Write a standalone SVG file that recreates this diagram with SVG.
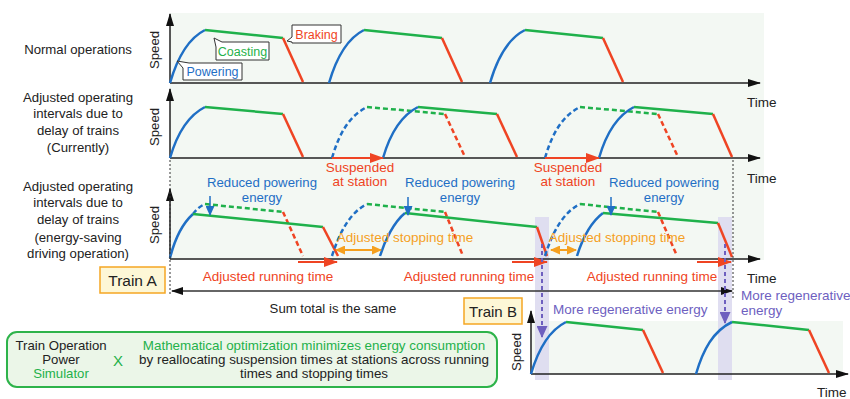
<svg xmlns="http://www.w3.org/2000/svg" width="850" height="399" viewBox="0 0 850 399">
<defs>
<style>
text{font-family:"Liberation Sans",Arial,sans-serif;font-size:13.2px;fill:#222}
.c{text-anchor:middle}
.b{stroke:#1f6fc5;stroke-width:2.5;fill:none}
.g{stroke:#1fb14b;stroke-width:2.5;fill:none}
.r{stroke:#ef4423;stroke-width:2.5;fill:none}
.d{stroke-dasharray:5,3}
.ax{stroke:#222;stroke-width:1.5;fill:none}
.tb{fill:#1f6fc5}.tg{fill:#1fb14b}.tr{fill:#ef4423}.to{fill:#f5a01f}.tp{fill:#6e5fbf}
.co{fill:#fff;stroke:#333;stroke-width:1}
.bg{fill:#f3f8f3}
.band{fill:#dddaf0;opacity:.9}
.tbox{fill:#fdf7d6;stroke:#f5a623;stroke-width:1.5}
.dot{stroke:#333;stroke-width:1;stroke-dasharray:2,2;fill:none}
</style>
<marker id="ak" markerWidth="13" markerHeight="8" refX="12" refY="4" orient="auto" markerUnits="userSpaceOnUse"><path d="M0,0 L13,4 L0,8 z" fill="#111"/></marker>
<marker id="ar" markerWidth="14" markerHeight="10" refX="13" refY="5" orient="auto" markerUnits="userSpaceOnUse"><path d="M0,0 L14,5 L0,10 z" fill="#ef4423"/></marker>
<marker id="ao" markerWidth="10" markerHeight="9" refX="9" refY="4.5" orient="auto-start-reverse" markerUnits="userSpaceOnUse"><path d="M0,0 L10,4.5 L0,9 z" fill="#f5a01f"/></marker>
<marker id="ab" markerWidth="10" markerHeight="9" refX="9" refY="4.5" orient="auto" markerUnits="userSpaceOnUse"><path d="M0,0 L10,4.5 L0,9 z" fill="#1f6fc5"/></marker>
<marker id="ap" markerWidth="12" markerHeight="11" refX="11" refY="5.5" orient="auto" markerUnits="userSpaceOnUse"><path d="M0,0 L12,5.5 L0,11 z" fill="#6e5fbf"/></marker>
<marker id="as" markerWidth="12" markerHeight="8" refX="11" refY="4" orient="auto-start-reverse" markerUnits="userSpaceOnUse"><path d="M0,0 L12,4 L0,8 z" fill="#111"/></marker>
</defs>

<rect class="bg" x="170" y="13" width="594" height="247"/>
<rect class="bg" x="531" y="321" width="312" height="53"/>
<rect class="band" x="535" y="217" width="14" height="163"/>
<rect class="band" x="718" y="217" width="14" height="163"/>

<g id="labels">
<text class="c" x="78" y="54">Normal operations</text>
<text class="c" x="78" y="102">Adjusted operating</text>
<text class="c" x="78" y="118">intervals due to</text>
<text class="c" x="78" y="135">delay of trains</text>
<text class="c" x="78" y="152">(Currently)</text>
<text class="c" x="78" y="191">Adjusted operating</text>
<text class="c" x="78" y="207">intervals due to</text>
<text class="c" x="78" y="224">delay of trains</text>
<text class="c" x="78" y="242">(energy-saving</text>
<text class="c" x="78" y="258">driving operation)</text>
</g>

<g id="panel-normal">
<path class="ax" d="M170,83 L170,14" marker-end="url(#ak)"/>
<path class="ax" d="M170,83 L760,83" marker-end="url(#ak)"/>
<text class="c" transform="translate(159,50) rotate(-90)">Speed</text>
<text x="747" y="107" style="font-size:13.5px">Time</text>
<path class="b" d="M170,83 C177,59 187,39 205,30"/><path class="g" d="M205,30 L283,38"/><path class="r" d="M283,38 L303,82"/>
<path class="b" d="M329,83 C336,59 346,39 364,30"/><path class="g" d="M364,30 L442,38"/><path class="r" d="M442,38 L462,82"/>
<path class="b" d="M490,83 C497,59 507,39 525,30"/><path class="g" d="M525,30 L603,38"/><path class="r" d="M603,38 L623,82"/>
<g id="callout-powering"><path class="co" d="M189,63 H242 V80 H183 V68 L177,61 Z"/><text class="c tb" x="212.5" y="76" style="font-size:12.5px">Powering</text></g>
<g id="callout-coasting"><path class="co" d="M222,42 H269 V60 H216 V47 L214,38 Z"/><text class="c tg" x="242.5" y="56" style="font-size:12.5px">Coasting</text></g>
<g id="callout-braking"><path class="co" d="M292,25 H341 V43 H292 V42 L287,41 L292,37 Z"/><text class="c tr" x="316.5" y="39" style="font-size:12.5px">Braking</text></g>
</g>

<g id="panel-current">
<path class="ax" d="M170,158 L170,89" marker-end="url(#ak)"/>
<path class="ax" d="M170,158 L760,158" marker-end="url(#ak)"/>
<text class="c" transform="translate(159,127) rotate(-90)">Speed</text>
<text x="747" y="183" style="font-size:13.5px">Time</text>
<path class="b" d="M170,158 C177,134 187,116 205,107"/><path class="g" d="M205,107 L283,114"/><path class="r" d="M283,114 L303,157"/>
<path class="b d" d="M332,158 C339,134 349,116 367,107"/><path class="g d" d="M367,107 L445,114"/><path class="r d" d="M445,114 L465,157"/>
<path class="b" d="M383,158 C390,134 400,116 418,107"/><path class="g" d="M418,107 L497,114"/><path class="r" d="M497,114 L517,157"/>
<path class="b d" d="M545,158 C552,134 562,116 580,107"/><path class="g d" d="M580,107 L658,114"/><path class="r d" d="M658,114 L678,157"/>
<path class="b" d="M599,158 C606,134 616,116 634,107"/><path class="g" d="M634,107 L713,114"/><path class="r" d="M713,114 L732,157"/>
<text class="c tr" x="360" y="172" style="font-size:13.5px">Suspended</text>
<text class="c tr" x="360" y="186" style="font-size:13.5px">at station</text>
<text class="c tr" x="568" y="172" style="font-size:13.5px">Suspended</text>
<text class="c tr" x="568" y="186" style="font-size:13.5px">at station</text>
</g>

<g id="panel-energy-saving">
<path class="ax" d="M170,259 L170,189" marker-end="url(#ak)"/>
<path class="ax" d="M170,259 L760,259" marker-end="url(#ak)"/>
<text class="c" transform="translate(159,225) rotate(-90)">Speed</text>
<text x="747" y="283" style="font-size:13.5px">Time</text>
<path class="b" d="M170,258 C174,242 182,224 193,214"/><path class="b d" d="M193,214 Q198,207 205,204"/>
<path class="g d" d="M205,204 L283,212"/><path class="r d" d="M283,212 L303,256"/>
<path class="g" d="M193,214 L323,227"/><path class="r" d="M323,227 L338,256"/>
<path class="b d" d="M332,256 C339,234 349,213 367,204"/><path class="g d" d="M367,204 L445,212"/><path class="r d" d="M445,212 L463,256"/>
<path class="b" d="M380,256 C385,240 394,222 405,213"/><path class="g" d="M405,213 L537,227"/><path class="r" d="M537,227 L547,256"/>
<path class="b d" d="M545,256 C552,234 562,213 580,204"/><path class="g d" d="M580,204 L658,212"/><path class="r d" d="M658,212 L677,256"/>
<path class="b" d="M577,256 C582,240 591,222 603,213"/><path class="g" d="M603,213 L718,223"/><path class="r" d="M718,223 L732,257"/>
<text class="c tb" x="262" y="187">Reduced powering</text><text class="c tb" x="262" y="202">energy</text>
<text class="c tb" x="460" y="187">Reduced powering</text><text class="c tb" x="460" y="202">energy</text>
<text class="c tb" x="664" y="187">Reduced powering</text><text class="c tb" x="664" y="202">energy</text>
<text class="c to" x="405" y="242" style="font-size:13.5px">Adjusted stopping time</text>
<text class="c to" x="617" y="242" style="font-size:13.5px">Adjusted stopping time</text>
<text class="c tr" x="268" y="281" style="font-size:13.5px">Adjusted running time</text>
<text class="c tr" x="469" y="281" style="font-size:13.5px">Adjusted running time</text>
<text class="c tr" x="652" y="281" style="font-size:13.5px">Adjusted running time</text>
<text class="c" x="333" y="313">Sum total is the same</text>
</g>

<g id="train-a"><rect class="tbox" x="100" y="267" width="65" height="26"/><text class="c" x="132.5" y="286" style="font-size:15.5px">Train A</text></g>
<g id="train-b"><rect class="tbox" x="464" y="298" width="58" height="26"/><text class="c" x="493" y="317" style="font-size:15px">Train B</text></g>

<g id="panel-train-b">
<path class="ax" d="M531,374 L531,311" marker-end="url(#ak)"/>
<path class="ax" d="M531,374 L848,374" marker-end="url(#ak)"/>
<text class="c" transform="translate(521,352) rotate(-90)">Speed</text>
<text x="817" y="397" style="font-size:13.5px">Time</text>
<path class="b" d="M531,374 C538,350 548,331 566,322"/><path class="g" d="M566,322 L643,330"/><path class="r" d="M643,330 L663,373"/>
<path class="b" d="M696,374 C703,350 713,331 732,322"/><path class="g" d="M732,322 L809,330"/><path class="r" d="M809,330 L829,373"/>
<text class="tp" x="553" y="314" style="font-size:13.5px">More regenerative energy</text>
<text class="tp" x="741" y="300" style="font-size:13.5px">More regenerative</text>
<text class="tp" x="741" y="315" style="font-size:13.5px">energy</text>
</g>

<g id="summary-box">
<rect x="7" y="332" width="490" height="55" rx="10" fill="#ebf6e8" stroke="#2db34a" stroke-width="2"/>
<text class="c" x="61" y="350">Train Operation</text>
<text class="c" x="61" y="364">Power</text>
<text class="c tg" x="61" y="378">Simulator</text>
<text class="c tg" x="118" y="366" style="font-size:15px">X</text>
<text class="c tg" x="314" y="350" style="font-size:13.4px">Mathematical optimization minimizes energy consumption</text>
<text class="c" x="314" y="364" style="font-size:13.4px">by reallocating suspension times at stations across running</text>
<text class="c" x="314" y="378" style="font-size:13.4px">times and stopping times</text>
</g>

<g id="connectors">
<path class="dot" d="M170,160 V296"/>
<path class="dot" d="M733,160 V300"/>
<path stroke="#333" stroke-width="1.5" fill="none" d="M172,291 L732,291" marker-start="url(#as)" marker-end="url(#as)"/>
<path stroke="#ef4423" stroke-width="2" d="M332,158 L383,158" marker-end="url(#ar)"/>
<path stroke="#ef4423" stroke-width="2" d="M545,158 L599,158" marker-end="url(#ar)"/>
<path stroke="#ef4423" stroke-width="2" d="M298,262 L337,262" marker-end="url(#ar)"/>
<path stroke="#ef4423" stroke-width="2" d="M512,262 L547,262" marker-end="url(#ar)"/>
<path stroke="#ef4423" stroke-width="2" d="M697,262 L731,262" marker-end="url(#ar)"/>
<path stroke="#f5a01f" stroke-width="2" d="M336,250 L381,250" marker-start="url(#ao)" marker-end="url(#ao)"/>
<path stroke="#f5a01f" stroke-width="2" d="M551,250 L576,250" marker-start="url(#ao)" marker-end="url(#ao)"/>
<path stroke="#1f6fc5" stroke-width="1.5" d="M210,196 V215" marker-end="url(#ab)"/>
<path stroke="#1f6fc5" stroke-width="1.5" d="M408,197 V215" marker-end="url(#ab)"/>
<path stroke="#1f6fc5" stroke-width="1.5" d="M611,197 V215" marker-end="url(#ab)"/>
<path stroke="#6e5fbf" stroke-width="2" stroke-dasharray="4,3" d="M542,244 V337" marker-end="url(#ap)"/>
<path stroke="#6e5fbf" stroke-width="2" stroke-dasharray="4,3" d="M725,244 V323" marker-end="url(#ap)"/>
</g>
</svg>
